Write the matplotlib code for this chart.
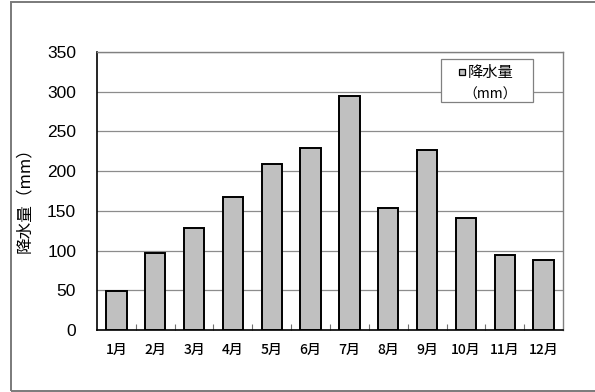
import matplotlib
matplotlib.use("Agg")
import matplotlib.pyplot as plt
from matplotlib.patches import Rectangle
import numpy as np

plt.rcParams['font.family'] = ['Noto Sans CJK JP', 'DejaVu Sans']

months = ["1月", "2月", "3月", "4月", "5月", "6月", "7月", "8月", "9月", "10月", "11月", "12月"]
rainfall = [49, 97, 128, 167, 209, 229, 295, 154, 226, 141, 95, 88]
yticks = [0, 50, 100, 150, 200, 250, 300, 350]
ylabel = "降水量（mm）"
legend_name = "降水量"
legend_unit = "（mm）"

W, H = 595, 392
fig = plt.figure(figsize=(W / 100, H / 100), dpi=100)


def fx(px):
    return px / W


def fy(py):
    return 1 - py / H


# plot area in pixel terms
left, right, top, bottom = 97, 563, 52, 330
ax = fig.add_axes([fx(left), fy(bottom), fx(right) - fx(left), fy(top) - fy(bottom)])

x = np.arange(len(months))
ax.bar(x, rainfall, width=0.52, color="#C0C0C0", edgecolor="black", linewidth=1.4, zorder=3)

ax.set_xlim(-0.5, len(months) - 0.5)
ax.set_ylim(0, 350)
ax.set_yticks(yticks)
ax.set_yticklabels([str(v) for v in yticks], fontsize=12.5, family=['Liberation Sans', 'DejaVu Sans'])
ax.tick_params(axis='y', length=0, pad=15)

ax.set_xticks(x)
ax.set_xticklabels(months, fontsize=10, fontweight='medium')
ax.tick_params(axis='x', which='major', length=0, pad=9)
ax.set_xticks(np.arange(0.5, len(months) - 0.5), minor=True)
ax.tick_params(axis='x', which='minor', direction='in', length=4, width=0.8, color='#707070')

ax.yaxis.grid(True, color="#8c8c8c", linewidth=0.9, zorder=0)
ax.set_axisbelow(True)

for side in ("left", "bottom"):
    ax.spines[side].set_color("black")
    ax.spines[side].set_linewidth(1.2)
for side in ("top", "right"):
    ax.spines[side].set_color("#808080")
    ax.spines[side].set_linewidth(1.0)

ax.set_ylabel(ylabel, fontsize=12)
ax.yaxis.set_label_coords((33 - left) / (right - left), 0.48)

# legend box
lx0, lx1, ly0, ly1 = 441, 533, 59, 102
fig.patches.append(Rectangle((fx(lx0), fy(ly1)), fx(lx1) - fx(lx0), fy(ly0) - fy(ly1),
                             transform=fig.transFigure, facecolor="white",
                             edgecolor="#808080", linewidth=0.9, zorder=5))
fig.patches.append(Rectangle((fx(459), fy(75)), fx(6), fy(0) - fy(6),
                             transform=fig.transFigure, facecolor="#C0C0C0",
                             edgecolor="black", linewidth=0.9, zorder=6))
fig.text(fx(468), fy(72), legend_name, fontsize=11, ha="left", va="center", zorder=7)
fig.text(fx(490), fy(95), legend_unit, fontsize=10, ha="center", va="center", zorder=7)

# outer chart frame
fig.patches.append(Rectangle((fx(11), fy(390.5)), fx(600) - fx(11), fy(2) - fy(390.5),
                             transform=fig.transFigure, facecolor="none",
                             edgecolor="#7a7a7a", linewidth=1.4, zorder=1))

fig.savefig("out.png", dpi=100)
